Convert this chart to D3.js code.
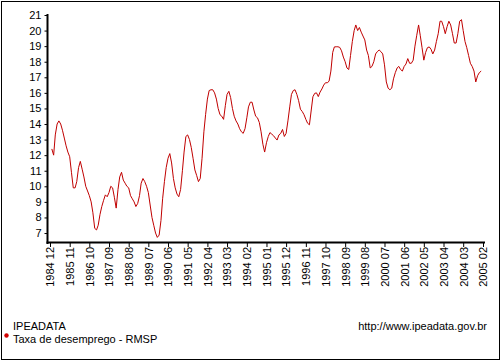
<!DOCTYPE html>
<html>
<head>
<meta charset="utf-8">
<script src="https://cdn.jsdelivr.net/npm/d3@7"></script>
<style>
  body { margin: 0; background: #fff; }
  svg { display: block; font-family: "Liberation Sans", Arial, sans-serif; }
</style>
</head>
<body>
<div id="chart"></div>
<script>
// monthly values, Jan 1985 .. Jan 2005
const startMonth = "1985 01";
const values = [
  12.4, 12.0, 13.3, 14.0, 14.2, 14.0, 13.6, 13.1, 12.6, 12.2, 11.9, 10.9,   // 1985
  9.9, 9.9, 10.3, 11.2, 11.6, 11.1, 10.6, 10.0, 9.7, 9.4, 9.0, 8.3,         // 1986
  7.3, 7.2, 7.5, 8.2, 8.7, 9.1, 9.45, 9.33, 9.6, 10.0, 9.9, 9.3,            // 1987
  8.6, 9.8, 10.6, 10.9, 10.4, 10.2, 10.0, 9.9, 9.4, 9.2, 9.0, 8.7,          // 1988
  8.9, 9.4, 10.2, 10.5, 10.3, 10.0, 9.6, 8.8, 8.0, 7.5, 7.0, 6.72,          // 1989
  6.87, 7.8, 9.2, 10.3, 11.2, 11.8, 12.1, 11.5, 10.5, 9.9, 9.5, 9.33,       // 1990
  9.8, 11.0, 12.2, 13.2, 13.3, 13.0, 12.5, 11.8, 11.05, 10.7, 10.3, 10.5,   // 1991
  11.8, 13.5, 14.6, 15.6, 16.15, 16.2, 16.2, 16.0, 15.6, 15.0, 14.6, 14.5,  // 1992
  14.3, 15.2, 15.9, 16.1, 15.7, 15.0, 14.5, 14.2, 14.0, 13.7, 13.5, 13.4,   // 1993
  13.7, 14.4, 15.1, 15.4, 15.4, 14.9, 14.5, 14.4, 14.1, 13.5, 12.7, 12.2,   // 1994
  12.8, 13.2, 13.45, 13.35, 13.25, 13.1, 12.97, 13.3, 13.4, 13.65, 13.2, 13.4, // 1995
  14.2, 15.1, 15.9, 16.15, 16.2, 15.9, 15.5, 14.95, 14.8, 14.6, 14.3, 14.05, // 1996
  13.95, 14.9, 15.75, 15.97, 16.0, 15.76, 16.05, 16.25, 16.5, 16.65, 16.65, 16.75, // 1997
  17.4, 18.6, 18.95, 18.96, 18.96, 18.92, 18.7, 18.3, 18.0, 17.6, 17.5, 18.4, // 1998
  19.3, 20.0, 20.36, 20.0, 20.2, 19.9, 19.65, 19.4, 18.75, 18.4, 17.6, 17.7, // 1999
  18.0, 18.5, 18.65, 18.75, 18.65, 18.5, 17.8, 16.7, 16.3, 16.2, 16.3, 16.9, // 2000
  17.3, 17.6, 17.7, 17.5, 17.4, 17.7, 17.85, 18.2, 17.9, 17.9, 18.1, 19.0,  // 2001
  19.7, 20.36, 19.7, 18.9, 18.1, 18.6, 18.9, 18.95, 18.8, 18.5, 18.75, 19.3, // 2002
  19.8, 20.6, 20.6, 20.25, 19.8, 20.25, 20.6, 20.36, 19.8, 19.2, 19.2, 19.8, // 2003
  20.6, 20.7, 20.0, 19.3, 18.9, 18.4, 17.9, 17.7, 17.4, 16.7, 17.1, 17.3,   // 2004
  17.4                                                                       // 2005
];

const xTickLabels = ["1984 12", "1985 11", "1986 10", "1987 09", "1988 08", "1989 07",
  "1990 06", "1991 05", "1992 04", "1993 03", "1994 02", "1995 01", "1995 12",
  "1996 11", "1997 10", "1998 09", "1999 08", "2000 07", "2001 06", "2002 05",
  "2003 04", "2004 03", "2005 02"];
const yTicks = [7, 8, 9, 10, 11, 12, 13, 14, 15, 16, 17, 18, 19, 20, 21];

const sourceName = "IPEADATA";
const seriesName = "Taxa de desemprego - RMSP";
const siteUrl = "http://www.ipeadata.gov.br";

const W = 502, H = 361;
const parse = d3.timeParse("%Y %m");
const t0 = parse(startMonth);
const data = values.map((v, i) => ({ date: d3.timeMonth.offset(t0, i), value: v }));

const x = d3.scaleTime()
  .domain([parse(xTickLabels[0]), parse(xTickLabels[xTickLabels.length - 1])])
  .range([50, 483]);
const y = d3.scaleLinear().domain([6.36, 21]).range([243, 15]);

const svg = d3.select("#chart").append("svg").attr("width", W).attr("height", H);

svg.append("rect").attr("x", 1.5).attr("y", 1.5).attr("width", 498).attr("height", 358)
  .attr("fill", "#fff").attr("stroke", "#000").attr("stroke-width", 1);

// y axis
const yAxis = svg.append("g").attr("transform", "translate(47.5,0)")
  .call(d3.axisLeft(y).tickValues(yTicks).tickSize(3).tickPadding(3));
yAxis.select(".domain").remove();
yAxis.selectAll("text").attr("font-size", 11).attr("fill", "#000")
  .attr("font-family", "'Liberation Sans', Arial, sans-serif");
svg.append("line").attr("x1", 47.5).attr("x2", 47.5).attr("y1", 14).attr("y2", 244)
  .attr("stroke", "#000").attr("stroke-width", 2);

// x axis
const xAxis = svg.append("g").attr("transform", "translate(0,243)")
  .call(d3.axisBottom(x).tickValues(xTickLabels.map(parse)).tickSize(4)
    .tickFormat(d3.timeFormat("%Y %m")));
xAxis.select(".domain").remove();
xAxis.selectAll("text")
  .attr("font-size", 11).attr("fill", "#000")
  .attr("font-family", "'Liberation Sans', Arial, sans-serif")
  .attr("text-anchor", "end")
  .attr("transform", "translate(0,4) rotate(-90)")
  .attr("x", 0).attr("y", 0).attr("dy", "0.35em");
svg.append("line").attr("x1", 46.5).attr("x2", 485).attr("y1", 242.5).attr("y2", 242.5)
  .attr("stroke", "#000").attr("stroke-width", 2);

// series
const line = d3.line().x(d => x(d.date)).y(d => y(d.value));
svg.append("path").datum(data).attr("d", line)
  .attr("fill", "none").attr("stroke", "#c00000").attr("stroke-width", 1);

// legend and source
svg.append("circle").attr("cx", 6.5).attr("cy", 335.5).attr("r", 2.2).attr("fill", "#d00000");
svg.append("text").attr("x", 13).attr("y", 330).attr("font-size", 11).text(sourceName);
svg.append("text").attr("x", 13).attr("y", 342.8).attr("font-size", 11).text(seriesName);
svg.append("text").attr("x", 487).attr("y", 330).attr("font-size", 11)
  .attr("text-anchor", "end").text(siteUrl);
</script>
</body>
</html>
